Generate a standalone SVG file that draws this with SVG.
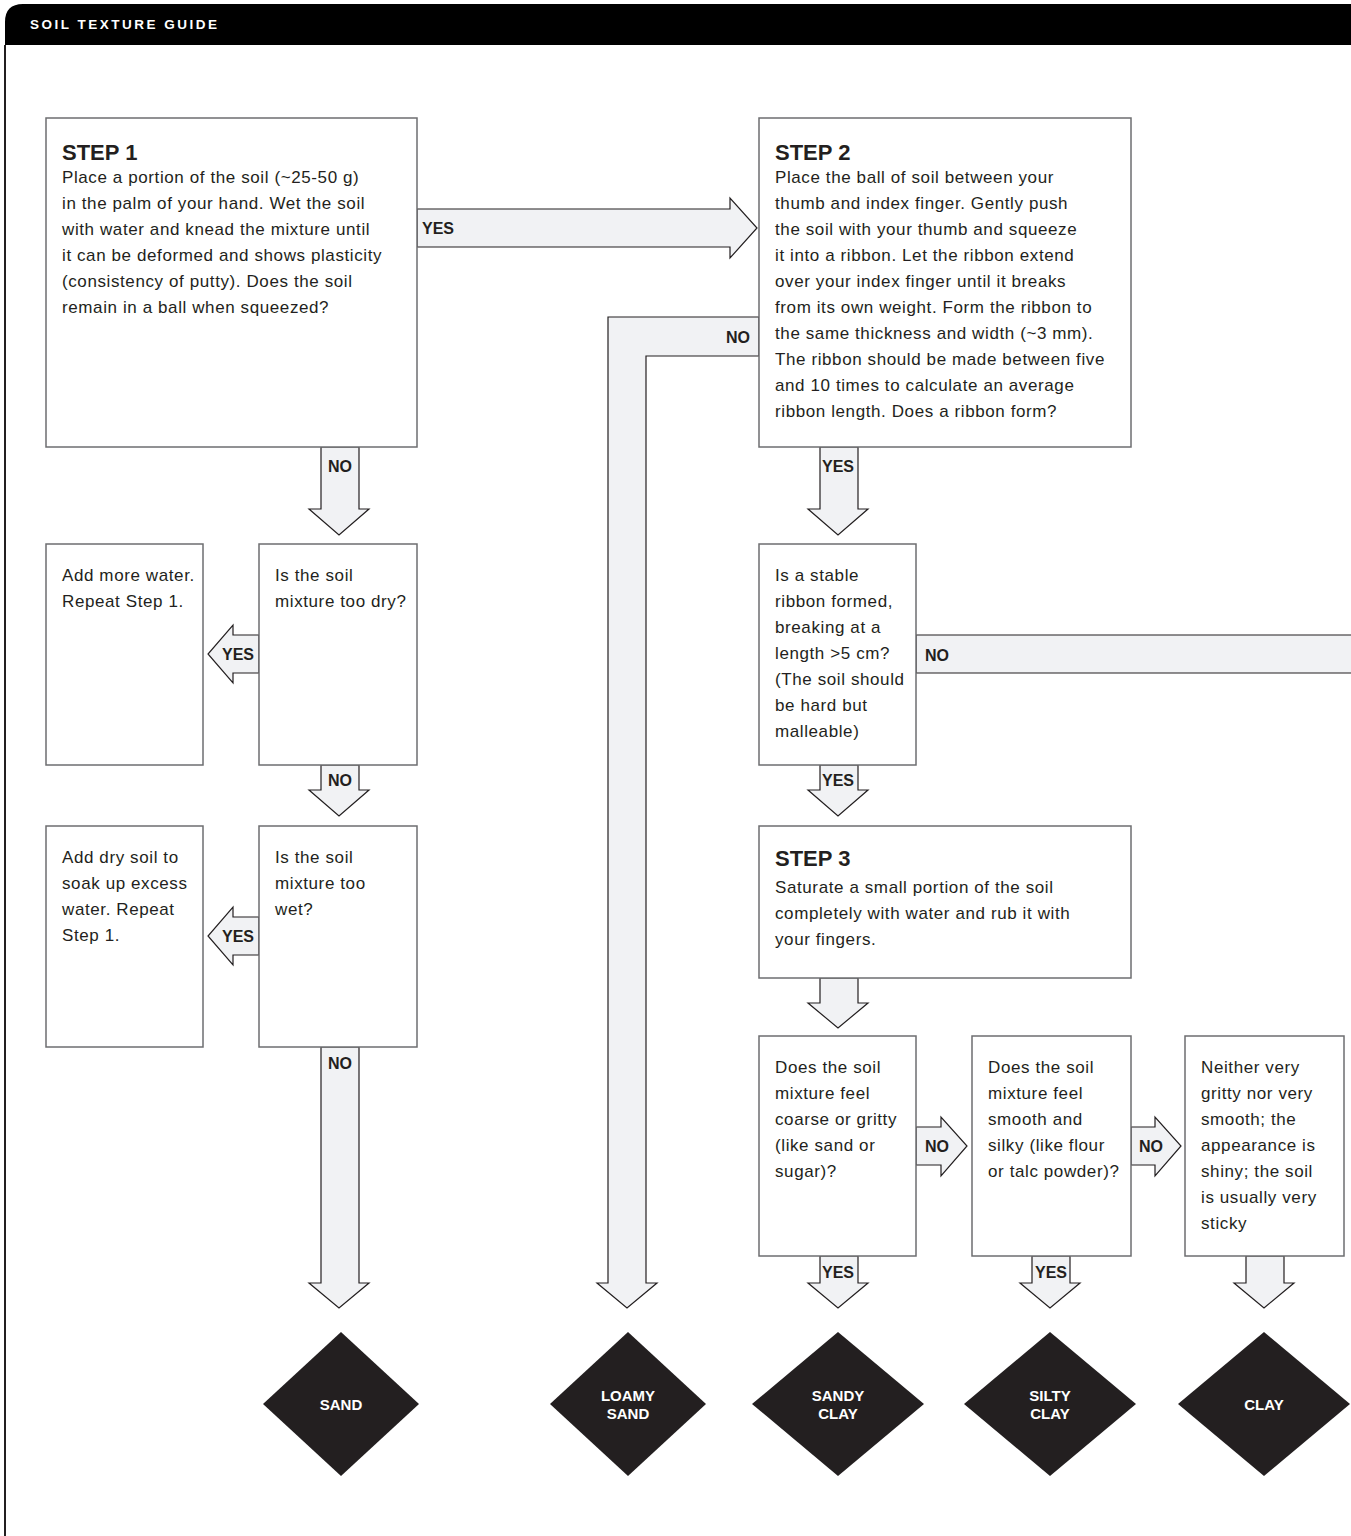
<svg xmlns="http://www.w3.org/2000/svg" width="1351" height="1536" viewBox="0 0 1351 1536">
<style>
.box{fill:#fff;stroke:#6d6e70;stroke-width:1.5}
.arr{fill:#f1f2f4;stroke:#231f20;stroke-width:1.2;stroke-linejoin:miter}
.t{font-family:"Liberation Sans",Arial,sans-serif;font-size:17px;letter-spacing:0.6px;fill:#231f20}
.h{font-family:"Liberation Sans",Arial,sans-serif;font-size:22px;font-weight:bold;fill:#231f20}
.lb{font-family:"Liberation Sans",Arial,sans-serif;font-size:16px;font-weight:bold;fill:#231f20}
.dm{fill:#231f20}
.dt{font-family:"Liberation Sans",Arial,sans-serif;font-size:15px;font-weight:bold;fill:#fff;text-anchor:middle}
</style>
<rect width="1351" height="1536" fill="#fff"/>
<g id="frame">
<path d="M5,1536 L5,22 Q5,4 23,4 L1351,4 L1351,45 L5,45 Z" fill="#000"/>
<line x1="5" y1="45" x2="5" y2="1536" stroke="#231f20" stroke-width="2"/>
<text x="30" y="29" font-family="Liberation Sans,Arial,sans-serif" font-size="13.5" font-weight="bold" letter-spacing="2.5" fill="#fff">SOIL TEXTURE GUIDE</text>
</g>
<g id="connectors">
<polygon class="arr" points="417,209 730,209 730,198 757,228 730,258 730,247 417,247"/>
<text class="lb" x="422" y="234">YES</text>
<polygon class="arr" points="759,317 608,317 608,1283 597,1283 627,1308 657,1283 646,1283 646,356 759,356"/>
<text class="lb" x="750" y="343" text-anchor="end">NO</text>
<polygon class="arr" points="321,447 321,509 309,509 339,535 369,509 359,509 359,447"/>
<text class="lb" x="340" y="472" text-anchor="middle">NO</text>
<polygon class="arr" points="259,635 233,635 233,625 208,654 233,683 233,673 259,673"/>
<text class="lb" x="238" y="660" text-anchor="middle">YES</text>
<polygon class="arr" points="321,765 321,790 309,790 339,816 369,790 359,790 359,765"/>
<text class="lb" x="340" y="786" text-anchor="middle">NO</text>
<polygon class="arr" points="259,917 233,917 233,907 208,936 233,965 233,955 259,955"/>
<text class="lb" x="238" y="942" text-anchor="middle">YES</text>
<polygon class="arr" points="321,1047 321,1283 309,1283 339,1308 369,1283 359,1283 359,1047"/>
<text class="lb" x="340" y="1069" text-anchor="middle">NO</text>
<polygon class="arr" points="820,447 820,509 808,509 838,535 868,509 858,509 858,447"/>
<text class="lb" x="838" y="472" text-anchor="middle">YES</text>
<polygon class="arr" points="916,635 1352,635 1352,673 916,673"/>
<text class="lb" x="925" y="661">NO</text>
<polygon class="arr" points="820,765 820,790 808,790 838,816 868,790 858,790 858,765"/>
<text class="lb" x="838" y="786" text-anchor="middle">YES</text>
<polygon class="arr" points="820,978 820,1003 808,1003 838,1028 868,1003 858,1003 858,978"/>
<polygon class="arr" points="916,1127 941,1127 941,1117 967,1146 941,1176 941,1165 916,1165"/>
<text class="lb" x="937" y="1152" text-anchor="middle">NO</text>
<polygon class="arr" points="1131,1127 1155,1127 1155,1117 1181,1146 1155,1176 1155,1165 1131,1165"/>
<text class="lb" x="1151" y="1152" text-anchor="middle">NO</text>
<polygon class="arr" points="820,1256 820,1283 808,1283 838,1308 868,1283 858,1283 858,1256"/>
<text class="lb" x="838" y="1278" text-anchor="middle">YES</text>
<polygon class="arr" points="1032,1256 1032,1283 1020,1283 1050,1308 1080,1283 1070,1283 1070,1256"/>
<text class="lb" x="1051" y="1278" text-anchor="middle">YES</text>
<polygon class="arr" points="1246,1256 1246,1283 1234,1283 1264,1308 1294,1283 1284,1283 1284,1256"/>
</g>
<g id="step1">
<rect class="box" x="46" y="118" width="371" height="329"/>
<text class="h" x="62" y="160">STEP 1</text>
<text class="t" x="62" y="183">Place a portion of the soil (~25-50 g)</text>
<text class="t" x="62" y="209">in the palm of your hand. Wet the soil</text>
<text class="t" x="62" y="235">with water and knead the mixture until</text>
<text class="t" x="62" y="261">it can be deformed and shows plasticity</text>
<text class="t" x="62" y="287">(consistency of putty). Does the soil</text>
<text class="t" x="62" y="313">remain in a ball when squeezed?</text>
</g>
<g id="step2">
<rect class="box" x="759" y="118" width="372" height="329"/>
<text class="h" x="775" y="160">STEP 2</text>
<text class="t" x="775" y="183">Place the ball of soil between your</text>
<text class="t" x="775" y="209">thumb and index finger. Gently push</text>
<text class="t" x="775" y="235">the soil with your thumb and squeeze</text>
<text class="t" x="775" y="261">it into a ribbon. Let the ribbon extend</text>
<text class="t" x="775" y="287">over your index finger until it breaks</text>
<text class="t" x="775" y="313">from its own weight. Form the ribbon to</text>
<text class="t" x="775" y="339">the same thickness and width (~3 mm).</text>
<text class="t" x="775" y="365">The ribbon should be made between five</text>
<text class="t" x="775" y="391">and 10 times to calculate an average</text>
<text class="t" x="775" y="417">ribbon length. Does a ribbon form?</text>
</g>
<g id="too-dry">
<rect class="box" x="259" y="544" width="158" height="221"/>
<text class="t" x="275" y="581">Is the soil</text>
<text class="t" x="275" y="607">mixture too dry?</text>
</g>
<g id="add-water">
<rect class="box" x="46" y="544" width="157" height="221"/>
<text class="t" x="62" y="581">Add more water.</text>
<text class="t" x="62" y="607">Repeat Step 1.</text>
</g>
<g id="too-wet">
<rect class="box" x="259" y="826" width="158" height="221"/>
<text class="t" x="275" y="863">Is the soil</text>
<text class="t" x="275" y="889">mixture too</text>
<text class="t" x="275" y="915">wet?</text>
</g>
<g id="add-soil">
<rect class="box" x="46" y="826" width="157" height="221"/>
<text class="t" x="62" y="863">Add dry soil to</text>
<text class="t" x="62" y="889">soak up excess</text>
<text class="t" x="62" y="915">water. Repeat</text>
<text class="t" x="62" y="941">Step 1.</text>
</g>
<g id="stable-ribbon">
<rect class="box" x="759" y="544" width="157" height="221"/>
<text class="t" x="775" y="581">Is a stable</text>
<text class="t" x="775" y="607">ribbon formed,</text>
<text class="t" x="775" y="633">breaking at a</text>
<text class="t" x="775" y="659">length &gt;5 cm?</text>
<text class="t" x="775" y="685">(The soil should</text>
<text class="t" x="775" y="711">be hard but</text>
<text class="t" x="775" y="737">malleable)</text>
</g>
<g id="step3">
<rect class="box" x="759" y="826" width="372" height="152"/>
<text class="h" x="775" y="866">STEP 3</text>
<text class="t" x="775" y="893">Saturate a small portion of the soil</text>
<text class="t" x="775" y="919">completely with water and rub it with</text>
<text class="t" x="775" y="945">your fingers.</text>
</g>
<g id="gritty">
<rect class="box" x="759" y="1036" width="157" height="220"/>
<text class="t" x="775" y="1073">Does the soil</text>
<text class="t" x="775" y="1099">mixture feel</text>
<text class="t" x="775" y="1125">coarse or gritty</text>
<text class="t" x="775" y="1151">(like sand or</text>
<text class="t" x="775" y="1177">sugar)?</text>
</g>
<g id="silky">
<rect class="box" x="972" y="1036" width="159" height="220"/>
<text class="t" x="988" y="1073">Does the soil</text>
<text class="t" x="988" y="1099">mixture feel</text>
<text class="t" x="988" y="1125">smooth and</text>
<text class="t" x="988" y="1151">silky (like flour</text>
<text class="t" x="988" y="1177">or talc powder)?</text>
</g>
<g id="neither">
<rect class="box" x="1185" y="1036" width="159" height="220"/>
<text class="t" x="1201" y="1073">Neither very</text>
<text class="t" x="1201" y="1099">gritty nor very</text>
<text class="t" x="1201" y="1125">smooth; the</text>
<text class="t" x="1201" y="1151">appearance is</text>
<text class="t" x="1201" y="1177">shiny; the soil</text>
<text class="t" x="1201" y="1203">is usually very</text>
<text class="t" x="1201" y="1229">sticky</text>
</g>
<g id="sand">
<polygon class="dm" points="341,1332 419,1404 341,1476 263,1404"/>
<text class="dt" x="341" y="1410">SAND</text>
</g>
<g id="loamy-sand">
<polygon class="dm" points="628,1332 706,1404 628,1476 550,1404"/>
<text class="dt" x="628" y="1401">LOAMY</text>
<text class="dt" x="628" y="1419">SAND</text>
</g>
<g id="sandy-clay">
<polygon class="dm" points="838,1332 924,1404 838,1476 752,1404"/>
<text class="dt" x="838" y="1401">SANDY</text>
<text class="dt" x="838" y="1419">CLAY</text>
</g>
<g id="silty-clay">
<polygon class="dm" points="1050,1332 1136,1404 1050,1476 964,1404"/>
<text class="dt" x="1050" y="1401">SILTY</text>
<text class="dt" x="1050" y="1419">CLAY</text>
</g>
<g id="clay">
<polygon class="dm" points="1264,1332 1350,1404 1264,1476 1178,1404"/>
<text class="dt" x="1264" y="1410">CLAY</text>
</g>
</svg>
